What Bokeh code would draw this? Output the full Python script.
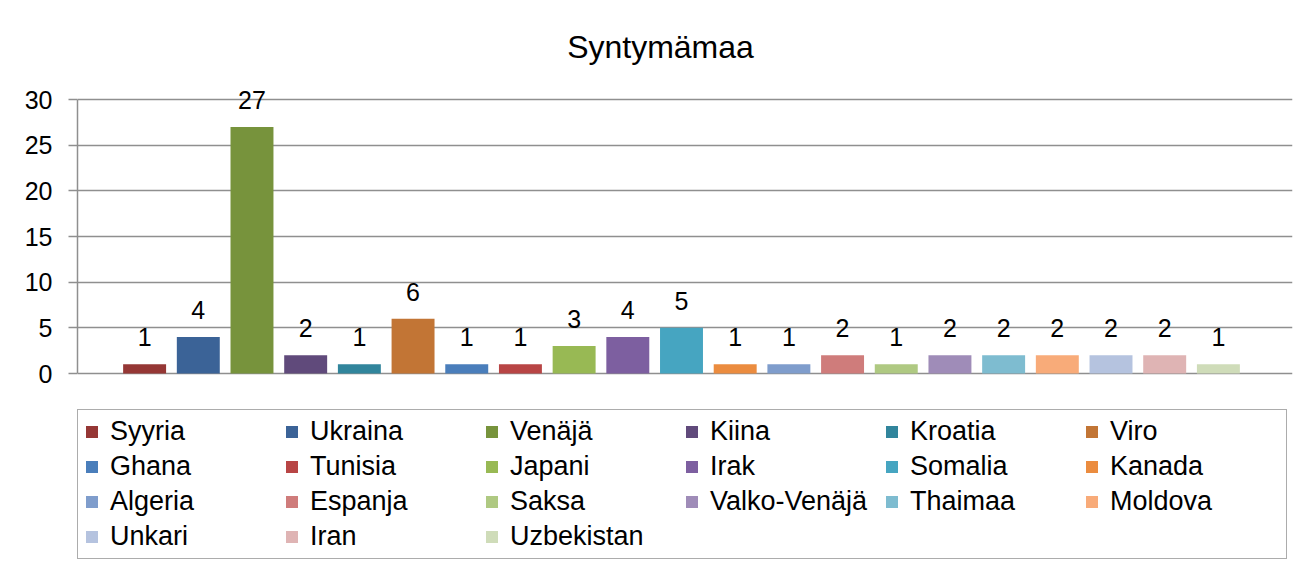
from bokeh.plotting import figure
from bokeh.models import Range1d, FixedTicker, ColumnDataSource, Legend, LegendItem
from bokeh.embed import file_html
from bokeh.resources import INLINE
from bokeh.core.properties import value

countries = ["Syyria", "Ukraina", "Venäjä", "Kiina", "Kroatia", "Viro", "Ghana",
             "Tunisia", "Japani", "Irak", "Somalia", "Kanada", "Algeria", "Espanja",
             "Saksa", "Valko-Venäjä", "Thaimaa", "Moldova", "Unkari", "Iran", "Uzbekistan"]
counts = [1, 4, 27, 2, 1, 6, 1, 1, 3, 4, 5, 1, 1, 2, 1, 2, 2, 2, 2, 2, 1]
colors = ["#953735", "#3b6397", "#77933c", "#604a7b", "#31859c", "#c27535", "#4a7ebb",
          "#b84545", "#98b954", "#7d5fa0", "#46a5c1", "#eb8c3f", "#7f9dcc", "#cf7c7b",
          "#afc982", "#9f8cb8", "#7ebcd0", "#f8ab79", "#b5c3df", "#dfb4b4", "#cfdcb9"]
y_ticks = [0, 5, 10, 15, 20, 25, 30]
title_text = "Syntymämaa"

FONT = "Liberation Sans"

# layout (pixels): the frame spans the whole figure height so that
# the title, the labels above the bars and the legend are not clipped
FIG_W, FIG_H = 1296, 572
LEFT = 77
FRAME_W, FRAME_H = 1215, 568
GRID_TOP_PX = 99           # pixel row of the 30 grid line
TITLE_PX = (660, 46)       # title centre (x, y) in pixels
PX_PER_UNIT = 274 / 30.0
PX_PER_CAT = 1208 / 22.5

y_top = 30 + GRID_TOP_PX / PX_PER_UNIT
y_bottom = y_top - FRAME_H / PX_PER_UNIT
x_start = -1.25
x_end = x_start + FRAME_W / PX_PER_CAT

src = ColumnDataSource(dict(x=list(range(len(countries))), top=counts, color=colors,
                            name=countries, label=[str(c) for c in counts]))

p = figure(width=FIG_W, height=FIG_H, output_backend="svg", toolbar_location=None,
           x_range=Range1d(x_start, x_end), y_range=Range1d(y_bottom, y_top),
           min_border_left=LEFT, min_border_right=FIG_W - LEFT - FRAME_W,
           min_border_top=0, min_border_bottom=FIG_H - FRAME_H)
p.outline_line_color = None
p.background_fill_color = "white"
p.border_fill_color = "white"

# title
p.text(x=[x_start + (TITLE_PX[0] - LEFT) / PX_PER_CAT],
       y=[y_top - TITLE_PX[1] / PX_PER_UNIT], text=[title_text],
       text_align="center", text_baseline="middle", text_font=value(FONT),
       text_font_size="32px", text_color="black")

r = p.vbar(x="x", top="top", width=0.8, bottom=0, color="color", line_color=None, source=src)
p.text(x="x", y="top", text="label", source=src, text_align="center",
       text_baseline="alphabetic", y_offset=-27, text_font=value(FONT),
       text_font_size="25px", text_color="black")

p.xaxis.visible = False
p.xgrid.visible = False
p.ygrid.ticker = FixedTicker(ticks=y_ticks)
p.ygrid.grid_line_color = "#8f8f8f"
p.ygrid.grid_line_width = 1.5

ya = p.yaxis[0]
ya.ticker = FixedTicker(ticks=y_ticks)
ya.bounds = (y_ticks[0], y_ticks[-1])
ya.axis_line_color = "#8f8f8f"
ya.axis_line_width = 1.5
ya.major_tick_line_color = "#8f8f8f"
ya.major_tick_line_width = 1.5
ya.major_tick_out = 9
ya.major_tick_in = 0
ya.minor_tick_line_color = None
ya.major_label_standoff = 16
ya.major_label_text_font = FONT
ya.major_label_text_font_size = "25px"
ya.major_label_text_color = "black"

items = [LegendItem(label=name, renderers=[r], index=i) for i, name in enumerate(countries)]
legend = Legend(items=items, ncols=6, orientation="horizontal", location=(0, 9),
                label_text_font=FONT, label_text_font_size="27px", label_text_color="black",
                glyph_width=15, glyph_height=15, label_standoff=11, spacing=4,
                label_width=170, label_height=24, padding=6, margin=0,
                border_line_color="#5a5a5a", border_line_width=1.2,
                background_fill_color="white", background_fill_alpha=1.0)
p.add_layout(legend, "center")

open("out.html", "w").write(file_html(p, INLINE))
